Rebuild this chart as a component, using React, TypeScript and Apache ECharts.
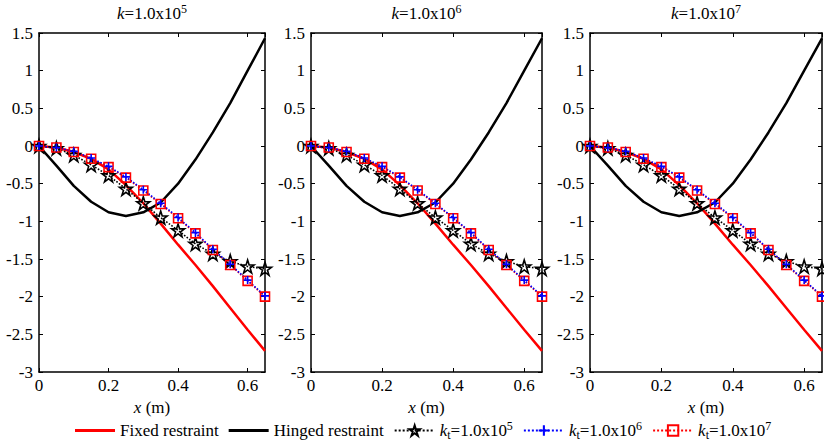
import React, { useEffect, useRef } from "react";
import * as echarts from "echarts";

// ---- data ----
const X_VALUES = [0, 0.05, 0.1, 0.15, 0.2, 0.25, 0.3, 0.35, 0.4, 0.45, 0.5, 0.55, 0.6, 0.65];
const FIXED = [0, -0.02, -0.08, -0.17, -0.31, -0.52, -0.76, -1.03, -1.31, -1.58, -1.86, -2.15, -2.44, -2.72];
const HINGED = [0, -0.26, -0.53, -0.74, -0.88, -0.93, -0.88, -0.75, -0.5, -0.18, 0.18, 0.57, 1.0, 1.43];
const KT5 = [0, -0.03, -0.12, -0.25, -0.39, -0.57, -0.76, -0.95, -1.12, -1.3, -1.43, -1.53, -1.6, -1.63];
const KT6 = [0, -0.02, -0.07, -0.16, -0.27, -0.41, -0.58, -0.76, -0.95, -1.15, -1.37, -1.57, -1.78, -1.99];
const KT7 = [0, -0.02, -0.08, -0.17, -0.28, -0.42, -0.59, -0.77, -0.96, -1.16, -1.38, -1.58, -1.79, -2.0];
const PANEL_EXPONENTS = ["5", "6", "7"];
const LEGEND_NAMES = ["Fixed restraint", "Hinged restraint", "kt5", "kt6", "kt7"];
const LEGEND_LABELS: Record<string, string> = {
  "Fixed restraint": "Fixed restraint",
  "Hinged restraint": "Hinged restraint",
  kt5: "{i|k}{sub|t}{n|=1.0x10}{sup|5}",
  kt6: "{i|k}{sub|t}{n|=1.0x10}{sup|6}",
  kt7: "{i|k}{sub|t}{n|=1.0x10}{sup|7}",
};

// ---- layout ----
const FONT = "Liberation Serif";
const FS = 17;
const GRIDS = [
  { left: 39, width: 226 },
  { left: 311, width: 231 },
  { left: 590, width: 232 },
];
const GRID_TOP = 33;
const GRID_HEIGHT = 339;

const STAR =
  "path://M50,0 L61.8,35.4 L100,35.4 L69.1,57.3 L80.9,92.7 L50,70.8 L19.1,92.7 L30.9,57.3 L0,35.4 L38.2,35.4 Z";
const PLUS = "path://M4,0H6V4H10V6H6V10H4V6H0V4H4Z";
const BAR = "path://M0,0H40V3H0Z";

const pairs = (ys: number[]) => X_VALUES.map((x, i) => [x, ys[i]]);

function buildOption() {
  const grid: any[] = [];
  const xAxis: any[] = [];
  const yAxis: any[] = [];
  const series: any[] = [];
  const title: any[] = [];

  const axisLine = { show: true, onZero: false, lineStyle: { color: "#000", width: 1.5 } };
  const axisTick = { show: true, inside: true, length: 4, lineStyle: { color: "#000", width: 1 } };
  const labelStyle = { color: "#000", fontFamily: FONT, fontSize: FS };
  const richStyles = {
    n: { fontFamily: FONT, fontSize: FS, color: "#000", fontWeight: "normal", lineHeight: 21 },
    i: { fontStyle: "italic", fontFamily: FONT, fontSize: FS, color: "#000", fontWeight: "normal", lineHeight: 21 },
    sub: { fontSize: 12, fontFamily: FONT, color: "#000", fontWeight: "normal", verticalAlign: "bottom", lineHeight: 21 },
    sup: { fontSize: 12, fontFamily: FONT, color: "#000", fontWeight: "normal", verticalAlign: "top", lineHeight: 21 },
  };

  GRIDS.forEach((g, i) => {
    grid.push({ left: g.left, top: GRID_TOP, width: g.width, height: GRID_HEIGHT, containLabel: false });
    xAxis.push({
      type: "value",
      gridIndex: i,
      position: "bottom",
      min: 0,
      max: 0.65,
      interval: 0.2,
      axisLine,
      axisTick,
      splitLine: { show: false },
      axisLabel: { ...labelStyle, margin: 5, showMaxLabel: false },
      name: "{i|x}{n| (m)}",
      nameLocation: "middle",
      nameGap: 24,
      nameTextStyle: { ...labelStyle, rich: richStyles },
    });
    xAxis.push({
      type: "value",
      gridIndex: i,
      position: "top",
      min: 0,
      max: 0.65,
      interval: 0.2,
      axisLine,
      axisTick,
      splitLine: { show: false },
      axisLabel: { show: false },
    });
    yAxis.push({
      type: "value",
      gridIndex: i,
      position: "left",
      min: -3,
      max: 1.5,
      interval: 0.5,
      axisLine,
      axisTick,
      splitLine: { show: false },
      axisLabel: { ...labelStyle, margin: 6 },
    });
    yAxis.push({
      type: "value",
      gridIndex: i,
      position: "right",
      min: -3,
      max: 1.5,
      interval: 0.5,
      axisLine,
      axisTick,
      splitLine: { show: false },
      axisLabel: { show: false },
    });

    const xi = i * 2;
    const yi = i * 2;
    series.push({
      name: "Fixed restraint",
      type: "line",
      xAxisIndex: xi,
      yAxisIndex: yi,
      data: pairs(FIXED),
      symbol: "none",
      itemStyle: { color: "#ff0000" },
      lineStyle: { color: "#ff0000", width: 2.5 },
    });
    series.push({
      name: "Hinged restraint",
      type: "line",
      xAxisIndex: xi,
      yAxisIndex: yi,
      data: pairs(HINGED),
      symbol: "none",
      itemStyle: { color: "#000" },
      lineStyle: { color: "#000", width: 2.5 },
    });
    series.push({
      name: "kt5",
      type: "line",
      xAxisIndex: xi,
      yAxisIndex: yi,
      data: pairs(KT5),
      symbol: STAR,
      symbolSize: 13,
      showSymbol: true,
      itemStyle: { color: "rgba(255,255,255,0)", borderColor: "#000", borderWidth: 1.6 },
      lineStyle: { color: "#000", width: 1.6, type: "dotted" },
    });
    series.push({
      name: "kt7",
      type: "line",
      xAxisIndex: xi,
      yAxisIndex: yi,
      data: pairs(KT7),
      symbol: "rect",
      symbolSize: 9,
      showSymbol: true,
      itemStyle: { color: "rgba(255,255,255,0)", borderColor: "#ff0000", borderWidth: 1.6 },
      lineStyle: { color: "#ff0000", width: 1.6, type: "dotted" },
    });
    series.push({
      name: "kt6",
      type: "line",
      xAxisIndex: xi,
      yAxisIndex: yi,
      data: pairs(KT6),
      symbol: PLUS,
      symbolSize: 8,
      showSymbol: true,
      itemStyle: { color: "#0000ff" },
      lineStyle: { color: "#0000ff", width: 1.6, type: "dotted" },
    });

    title.push({
      text: "{i|k}{n|=1.0x10}{sup|" + PANEL_EXPONENTS[i] + "}",
      left: g.left + g.width / 2,
      top: 3,
      padding: 0,
      textAlign: "center",
      textStyle: {
        color: "#000",
        fontFamily: FONT,
        fontSize: FS,
        fontWeight: "normal",
        rich: richStyles,
      },
    });
  });

  return {
    animation: false,
    backgroundColor: "#fff",
    textStyle: { fontFamily: FONT, color: "#000" },
    title,
    grid,
    xAxis,
    yAxis,
    series,
    legend: {
      data: LEGEND_NAMES.map((n, i) =>
        i < 2 ? { name: n, icon: BAR, itemStyle: { color: i === 0 ? "#ff0000" : "#000" } } : { name: n }
      ),
      left: 70,
      top: 415,
      itemWidth: 40,
      itemHeight: 13,
      itemGap: 10,
      selectedMode: false,
      formatter: (name: string) => LEGEND_LABELS[name],
      textStyle: {
        color: "#000",
        fontFamily: FONT,
        fontSize: FS,
        rich: richStyles,
      },
    },
  };
}

export default function App() {
  const ref = useRef<HTMLDivElement>(null);
  useEffect(() => {
    if (!ref.current) return;
    const chart = echarts.init(ref.current, undefined, { renderer: "svg" });
    chart.setOption(buildOption() as any);
    return () => chart.dispose();
  }, []);
  return (
    <div
      ref={ref}
      style={{ position: "absolute", left: 0, top: 0, width: 824, height: 444, background: "#fff" }}
    />
  );
}
